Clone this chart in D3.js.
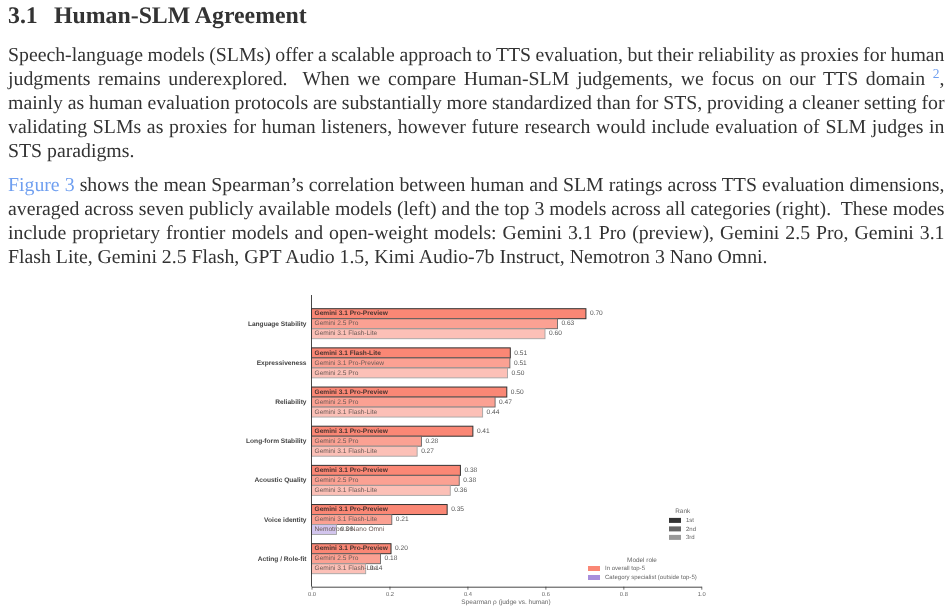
<!DOCTYPE html>
<html>
<head>
<meta charset="utf-8">
<script src="https://cdn.jsdelivr.net/npm/d3@7"></script>
<style>
body { margin: 0; background: #fff; }
svg { display: block; filter: blur(0.3px); text-rendering: geometricPrecision; }
</style>
</head>
<body>
<div id="chart"></div>
<script>
var categories = ["Language Stability", "Expressiveness", "Reliability", "Long-form Stability", "Acoustic Quality", "Voice identity", "Acting / Role-fit"];
var modelsFirst = ["Gemini 3.1 Pro-Preview", "Gemini 3.1 Flash-Lite", "Gemini 3.1 Pro-Preview", "Gemini 3.1 Pro-Preview", "Gemini 3.1 Pro-Preview", "Gemini 3.1 Pro-Preview", "Gemini 3.1 Pro-Preview"];
var modelsSecond = ["Gemini 2.5 Pro", "Gemini 3.1 Pro-Preview", "Gemini 2.5 Pro", "Gemini 2.5 Pro", "Gemini 2.5 Pro", "Gemini 3.1 Flash-Lite", "Gemini 2.5 Pro"];
var modelsThird = ["Gemini 3.1 Flash-Lite", "Gemini 2.5 Pro", "Gemini 3.1 Flash-Lite", "Gemini 3.1 Flash-Lite", "Gemini 3.1 Flash-Lite", "Nemotron 3 Nano Omni", "Gemini 3.1 Flash-Lite"];
var valuesFirst = [0.704, 0.510, 0.501, 0.414, 0.382, 0.348, 0.204];
var valuesSecond = [0.631, 0.509, 0.471, 0.282, 0.379, 0.206, 0.177];
var valuesThird = [0.599, 0.503, 0.439, 0.271, 0.356, 0.064, 0.139];
var specialists = ["Nemotron 3 Nano Omni"];
var xTicks = [0, 0.2, 0.4, 0.6, 0.8, 1];
var rankLabels = ["1st", "2nd", "3rd"];
var roleLabels = ["In overall top-5", "Category specialist (outside top-5)"];

var heading = "3.1";
var headingTitle = "Human-SLM Agreement";
var para1 = [
	[{t: "Speech-language models (SLMs) offer a scalable approach to TTS evaluation, but their reliability as proxies for human"}],
	[{t: "judgments remains underexplored.  When we compare Human-SLM judgements, we focus on our TTS domain "}, {t: "2", sup: true}, {t: ","}],
	[{t: "mainly as human evaluation protocols are substantially more standardized than for STS, providing a cleaner setting for"}],
	[{t: "validating SLMs as proxies for human listeners, however future research would include evaluation of SLM judges in"}],
	[{t: "STS paradigms."}]
];
var para2 = [
	[{t: "Figure 3", link: true}, {t: " shows the mean Spearman\u2019s correlation between human and SLM ratings across TTS evaluation dimensions,"}],
	[{t: "averaged across seven publicly available models (left) and the top 3 models across all categories (right).  These modes"}],
	[{t: "include proprietary frontier models and open-weight models: Gemini 3.1 Pro (preview), Gemini 2.5 Pro, Gemini 3.1"}],
	[{t: "Flash Lite, Gemini 2.5 Flash, GPT Audio 1.5, Kimi Audio-7b Instruct, Nemotron 3 Nano Omni."}]
];

var width = 952, height = 612;
var textColor = "#333333", linkColor = "#6f9ff0";

var svg = d3.select("#chart").append("svg")
	.attr("width", width)
	.attr("height", height);

// text block
var head = svg.append("text")
	.attr("x", 8).attr("y", 22.6)
	.attr("font-family", "Liberation Serif")
	.attr("font-weight", "bold")
	.attr("font-size", 23.8)
	.attr("fill", textColor);
head.append("tspan").text(heading);
head.append("tspan").attr("x", 54).text(headingTitle);

function drawParagraph(lines, y0) {
	lines.forEach(function(segs, i) {
		var line = svg.append("text")
			.attr("x", 8)
			.attr("y", y0 + i * 24)
			.attr("xml:space", "preserve")
			.style("white-space", "pre")
			.attr("font-family", "Liberation Serif")
			.attr("font-size", 19.8)
			.attr("fill", textColor);
		segs.forEach(function(s) {
			line.append("tspan")
				.attr("fill", s.link || s.sup ? linkColor : null)
				.attr("font-size", s.sup ? 13.5 : null)
				.attr("dy", s.sup ? -7 : (segs.indexOf(s) > 0 && segs[segs.indexOf(s) - 1].sup ? 7 : null))
				.text(s.t);
		});
		// justify every line but the last one
		if (i < lines.length - 1) {
			var full = segs.map(function(s) { return s.t; }).join("");
			var gaps = full.split(" ").length - 1;
			var spare = 936.5 - line.node().getComputedTextLength();
			line.attr("word-spacing", spare / gaps);
		}
	});
}
drawParagraph(para1, 61);
drawParagraph(para2, 191);

// chart
var x = d3.scaleLinear().domain([0, 1]).range([311.5, 701.3]);
var y = d3.scaleBand().domain(categories).range([308.7, 573.7]).paddingInner(0.234).paddingOuter(0);
var yRank = d3.scaleBand().domain([0, 1, 2]).range([0, y.bandwidth()]);
var fillOpacity = d3.scaleOrdinal().domain([0, 1, 2]).range([1, 0.78, 0.52]);
var strokeColor = d3.scaleOrdinal().domain([0, 1, 2]).range(["#333333", "#666666", "#a3a3a3"]);
var roleColor = d3.scaleOrdinal().domain(roleLabels).range(["#fa8775", "#a88fdc"]);
var chartSans = "Liberation Sans";

var rows = [];
categories.forEach(function(c, i) {
	[[modelsFirst, valuesFirst], [modelsSecond, valuesSecond], [modelsThird, valuesThird]].forEach(function(s, r) {
		rows.push({cat: c, rank: r, model: s[0][i], value: s[1][i]});
	});
});

var bars = svg.append("g");
bars.selectAll("rect")
	.data(rows)
	.enter()
	.append("rect")
	.attr("x", x(0))
	.attr("y", function(d) { return y(d.cat) + yRank(d.rank); })
	.attr("width", function(d) { return x(d.value) - x(0); })
	.attr("height", yRank.bandwidth())
	.attr("fill", function(d) { return roleColor(specialists.indexOf(d.model) >= 0 ? roleLabels[1] : roleLabels[0]); })
	.attr("fill-opacity", function(d) { return fillOpacity(d.rank); })
	.attr("stroke", function(d) { return strokeColor(d.rank); })
	.attr("stroke-width", function(d) { return d.rank == 0 ? 1 : 0.9; });

var labels = svg.append("g").attr("font-family", chartSans).attr("font-size", 6.6);
labels.selectAll("text.model")
	.data(rows)
	.enter()
	.append("text")
	.attr("class", "model")
	.attr("x", x(0) + 3)
	.attr("y", function(d) { return y(d.cat) + yRank(d.rank) + yRank.bandwidth() / 2; })
	.attr("dy", "0.25em")
	.attr("font-weight", function(d) { return d.rank == 0 ? "bold" : null; })
	.attr("fill", function(d) { return d.rank == 0 ? "#4a3430" : "#6b5a56"; })
	.text(function(d) { return d.model; });
labels.selectAll("text.value")
	.data(rows)
	.enter()
	.append("text")
	.attr("class", "value")
	.attr("x", function(d) { return x(d.value) + 4; })
	.attr("y", function(d) { return y(d.cat) + yRank(d.rank) + yRank.bandwidth() / 2; })
	.attr("dy", "0.25em")
	.attr("fill", "#555")
	.text(function(d) { return d3.format(".2f")(d.value); });

// axes
var axisY = 586.7;
var xAxis = svg.append("g")
	.attr("transform", "translate(0," + axisY + ")")
	.call(d3.axisBottom(x).tickValues(xTicks).tickFormat(d3.format(".1f")).tickSize(3).tickPadding(2).tickSizeOuter(0));
xAxis.select(".domain").attr("stroke", "#333").attr("stroke-width", 0.9);
xAxis.selectAll("line").attr("stroke", "#333").attr("stroke-width", 0.7);
xAxis.selectAll("text").attr("font-family", chartSans).attr("font-size", 5.8).attr("fill", "#666");

var yAxis = svg.append("g")
	.attr("transform", "translate(" + x(0) + ",0)")
	.call(d3.axisLeft(y).tickSize(0).tickPadding(5));
yAxis.select(".domain").remove();
yAxis.selectAll("text").attr("font-family", chartSans).attr("font-size", 6.6).attr("font-weight", "bold").attr("fill", "#444");
yAxis.append("line")
	.attr("y1", 295).attr("y2", axisY)
	.attr("stroke", "#333").attr("stroke-width", 0.9);

svg.append("text")
	.attr("x", 506).attr("y", 604)
	.attr("text-anchor", "middle")
	.attr("font-family", chartSans).attr("font-size", 6.5).attr("fill", "#666")
	.text("Spearman \u03c1 (judge vs. human)");

// legends
var rankLegend = svg.append("g").attr("font-family", chartSans).attr("font-size", 6).attr("fill", "#666");
var rankY = d3.scalePoint().domain(rankLabels).range([520.4, 537.4]);
var rankSwatch = d3.scaleOrdinal().domain(rankLabels).range(["#333333", "#666666", "#999999"]);
rankLegend.append("text").attr("x", 682.7).attr("y", 513).attr("text-anchor", "middle").attr("font-size", 6.4).text("Rank");
rankLegend.selectAll("rect").data(rankLabels).enter().append("rect")
	.attr("x", 669).attr("width", 12).attr("height", 5)
	.attr("y", function(d) { return rankY(d) - 2.5; })
	.attr("fill", function(d) { return rankSwatch(d); });
rankLegend.selectAll("text.item").data(rankLabels).enter().append("text")
	.attr("class", "item")
	.attr("x", 686)
	.attr("y", function(d) { return rankY(d); })
	.attr("dy", "0.3em")
	.text(function(d) { return d; });

var roleLegend = svg.append("g").attr("font-family", chartSans).attr("font-size", 6.05).attr("fill", "#666");
var roleY = d3.scalePoint().domain(roleLabels).range([568.5, 577.5]);
roleLegend.append("text").attr("x", 642).attr("y", 562).attr("text-anchor", "middle").attr("font-size", 6.4).text("Model role");
roleLegend.selectAll("rect").data(roleLabels).enter().append("rect")
	.attr("x", 588).attr("width", 12).attr("height", 5)
	.attr("y", function(d) { return roleY(d) - 2.5; })
	.attr("fill", function(d) { return roleColor(d); });
roleLegend.selectAll("text.item").data(roleLabels).enter().append("text")
	.attr("class", "item")
	.attr("x", 605)
	.attr("y", function(d) { return roleY(d); })
	.attr("dy", "0.3em")
	.text(function(d) { return d; });
</script>
</body>
</html>
